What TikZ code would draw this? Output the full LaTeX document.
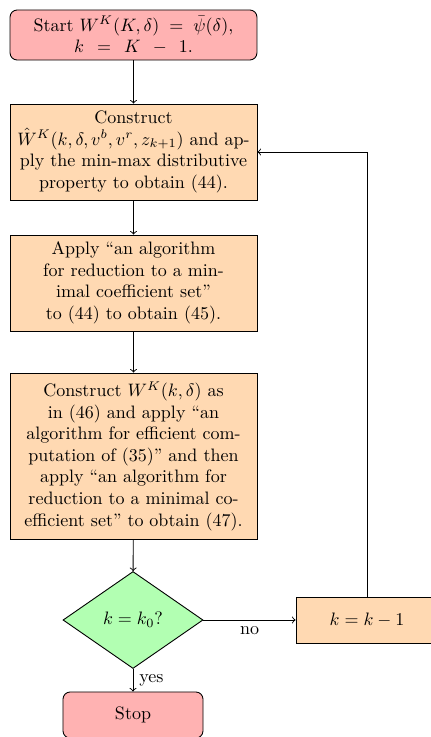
\documentclass[tikz,border=0pt]{standalone}
\usetikzlibrary{shapes.geometric}
\begin{document}
\begin{tikzpicture}[x=0.5556pt,y=-0.5556pt,line width=0.5pt,
  base/.style={draw,align=center,text width=132pt,inner xsep=2.6pt,inner ysep=0pt,minimum width=137.2pt},
  startstop/.style={draw,rounded corners=4pt,fill=red!30,align=center,inner sep=0pt},
  procbox/.style={base,fill=orange!30},
  decision/.style={draw,diamond,fill=green!30,inner sep=0pt,minimum width=77.8pt,minimum height=53.9pt},
  arr/.style={->}]
\useasboundingbox (0,0) rectangle (431,737);
\node[startstop,minimum width=137.2pt,minimum height=27.8pt] (start) at (133.5,35)
  {Start $W^K(K,\delta)\;=\;\bar{\psi}(\delta)$,\\ $k\,\;=\,\;K\,\;-\,\;1.$};
\node[procbox,minimum height=53.3pt] (b1) at (133.5,152)
  {Construct\\ $\hat{W}^K(k,\delta,v^b,v^r,z_{k+1})$ and ap-\\ply the min-max distributive\\ property to obtain (44).};
\node[procbox,minimum height=53.3pt] (b2) at (133.5,283)
  {Apply ``an algorithm\\ for reduction to a min-\\imal coefficient set''\\ to (44) to obtain (45).};
\node[procbox,minimum height=92.2pt] (b3) at (133.5,456)
  {Construct $W^K(k,\delta)$ as\\ in (46) and apply ``an\\ algorithm for efficient com-\\putation of (35)'' and then\\ apply ``an algorithm for\\ reduction to a minimal co-\\efficient set'' to obtain (47).};
\node[decision] (dec) at (133,620) {$k=k_0?$};
\node[draw,fill=orange!30,minimum width=78.9pt,minimum height=25.6pt,inner sep=0pt] (dec1) at (367,620) {$k=k-1$};
\node[startstop,minimum width=77.8pt,minimum height=25.6pt] (stop) at (133,715) {Stop};
\draw[arr] (start) -- (b1);
\draw[arr] (b1) -- (b2);
\draw[arr] (b2) -- (b3);
\draw[arr] (b3) -- (dec);
\draw[arr] (dec) -- node[midway,below] {no} (dec1);
\draw[arr] (dec) -- node[midway,right] {yes} (stop);
\draw[arr] (dec1.north) |- (b1.east);
\end{tikzpicture}
\end{document}
